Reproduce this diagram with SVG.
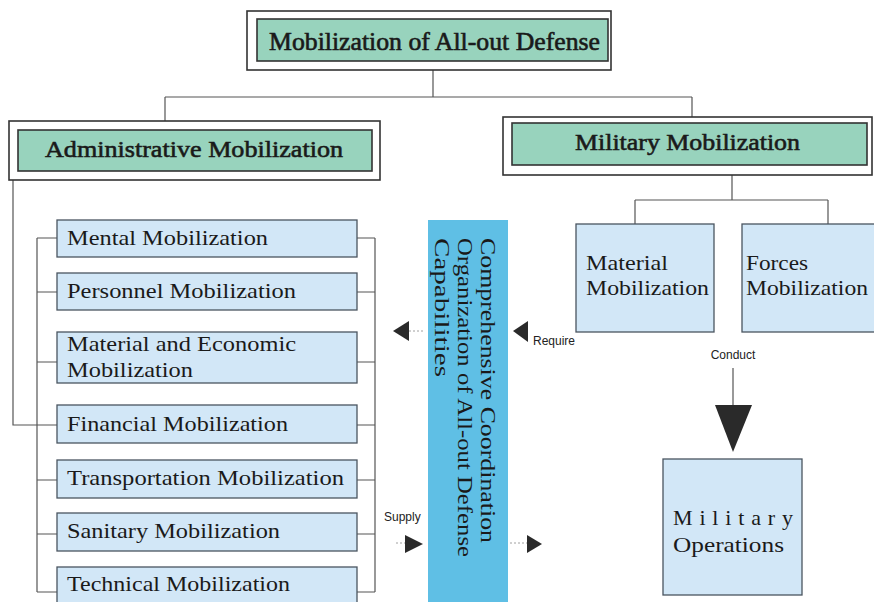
<svg xmlns="http://www.w3.org/2000/svg" width="874" height="602" viewBox="0 0 874 602">
<style>
.outer{fill:#fff;stroke:#333;stroke-width:1.6}
.green{fill:#98d3bd;stroke:#333;stroke-width:1.6}
.lb{fill:#d2e7f7;stroke:#4a5560;stroke-width:1.3}
.ln{fill:none;stroke:#555;stroke-width:1.2}
.dot{fill:none;stroke:#888;stroke-width:0.8;stroke-dasharray:2 2}
.head{font-family:"Liberation Serif","DejaVu Serif",serif;fill:#1a1a1a;stroke:#1a1a1a;stroke-width:0.6}
.t{font-family:"Liberation Serif","DejaVu Serif",serif;font-size:22px;fill:#1a1a1a}
.s{font-family:"Liberation Sans Narrow","Liberation Sans",sans-serif;font-size:12px;fill:#222}
.arr{fill:#2a2a2a}
</style>
<rect width="874" height="602" fill="#fff"/>
<g id="connectors">
<path class="ln" d="M433 70 V97 M165 97 H692 M165 97 V121 M692 97 V117"/>
<path class="ln" d="M13 180 V425 H57"/>
<path class="ln" d="M37 238 V592 M37 238 H57 M37 292 H57 M37 362 H57 M37 480 H57 M37 534 H57 M37 592 H57"/>
<path class="ln" d="M375 238 V592 M357 238 H375 M357 292 H375 M357 362 H375 M357 425 H375 M357 480 H375 M357 534 H375 M357 592 H375"/>
<path class="ln" d="M732 175 V200 M635 200 H828 M635 200 V224 M828 200 V224"/>
<path class="ln" d="M733 368 V405"/>
<path class="dot" d="M409 331 H424 M396 543 H405 M510 543 H527"/>
<polygon class="arr" points="393,331 409,321 409,341"/>
<polygon class="arr" points="513,331 528,321 528,342"/>
<polygon class="arr" points="405,535 423,544 405,553"/>
<polygon class="arr" points="527,535 542,544 527,553"/>
<polygon class="arr" points="715,405 752,405 733,452"/>
<text class="s" x="533" y="345">Require</text>
<text class="s" x="384" y="521">Supply</text>
<text class="s" x="733" y="359" text-anchor="middle">Conduct</text>
</g>
<g id="top">
<rect class="outer" x="247" y="11" width="364" height="59"/>
<rect class="green" x="257" y="19" width="351" height="42"/>
<text class="head" x="269" y="50" font-size="25" textLength="331" lengthAdjust="spacingAndGlyphs">Mobilization of All-out Defense</text>
</g>
<g id="admin">
<rect class="outer" x="9" y="121" width="371" height="59"/>
<rect class="green" x="18" y="130" width="354" height="41"/>
<text class="head" x="45" y="157" font-size="24" textLength="298" lengthAdjust="spacingAndGlyphs">Administrative Mobilization</text>
</g>
<g id="military">
<rect class="outer" x="503" y="117" width="369" height="58"/>
<rect class="green" x="512" y="123" width="355" height="42"/>
<text class="head" x="575" y="150" font-size="24" textLength="225" lengthAdjust="spacingAndGlyphs">Military Mobilization</text>
</g>
<g id="mental"><rect class="lb" x="57" y="220" width="300" height="37"/><text class="t" x="67" y="245" textLength="201" lengthAdjust="spacingAndGlyphs">Mental Mobilization</text></g>
<g id="personnel"><rect class="lb" x="57" y="273" width="300" height="37"/><text class="t" x="67" y="298" textLength="229" lengthAdjust="spacingAndGlyphs">Personnel Mobilization</text></g>
<g id="material-economic"><rect class="lb" x="57" y="332" width="300" height="51"/><text class="t" x="67" y="351" textLength="229" lengthAdjust="spacingAndGlyphs">Material and Economic</text><text class="t" x="67" y="377" textLength="126" lengthAdjust="spacingAndGlyphs">Mobilization</text></g>
<g id="financial"><rect class="lb" x="57" y="405" width="300" height="38"/><text class="t" x="67" y="431" textLength="221" lengthAdjust="spacingAndGlyphs">Financial Mobilization</text></g>
<g id="transportation"><rect class="lb" x="57" y="460" width="300" height="38"/><text class="t" x="67" y="485" textLength="277" lengthAdjust="spacingAndGlyphs">Transportation Mobilization</text></g>
<g id="sanitary"><rect class="lb" x="57" y="513" width="300" height="38"/><text class="t" x="67" y="538" textLength="213" lengthAdjust="spacingAndGlyphs">Sanitary Mobilization</text></g>
<g id="technical"><rect class="lb" x="57" y="567" width="300" height="45"/><text class="t" x="67" y="591" textLength="223" lengthAdjust="spacingAndGlyphs">Technical Mobilization</text></g>
<g id="coordination">
<rect x="428" y="220" width="80" height="390" fill="#5fbfe5"/>
<text class="t" font-size="22" transform="translate(481,238) rotate(90)"><tspan x="0" y="0" textLength="305" lengthAdjust="spacingAndGlyphs">Comprehensive Coordination</tspan><tspan x="0" y="23" textLength="319" lengthAdjust="spacingAndGlyphs">Organization of All-out Defense</tspan><tspan x="0" y="46" textLength="139" lengthAdjust="spacingAndGlyphs">Capabilities</tspan></text>
</g>
<g id="material-mob"><rect class="lb" x="576" y="224" width="138" height="108"/><text class="t" x="586" y="270" textLength="82" lengthAdjust="spacingAndGlyphs">Material</text><text class="t" x="586" y="295" textLength="123" lengthAdjust="spacingAndGlyphs">Mobilization</text></g>
<g id="forces-mob"><rect class="lb" x="742" y="224" width="140" height="108"/><text class="t" x="746" y="270" textLength="62" lengthAdjust="spacingAndGlyphs">Forces</text><text class="t" x="746" y="295" textLength="122" lengthAdjust="spacingAndGlyphs">Mobilization</text></g>
<g id="operations"><rect class="lb" x="663" y="459" width="139" height="136"/><text class="t" x="673" y="525" textLength="120" lengthAdjust="spacing">Military</text><text class="t" x="673" y="552" textLength="111" lengthAdjust="spacingAndGlyphs">Operations</text></g>
</svg>
